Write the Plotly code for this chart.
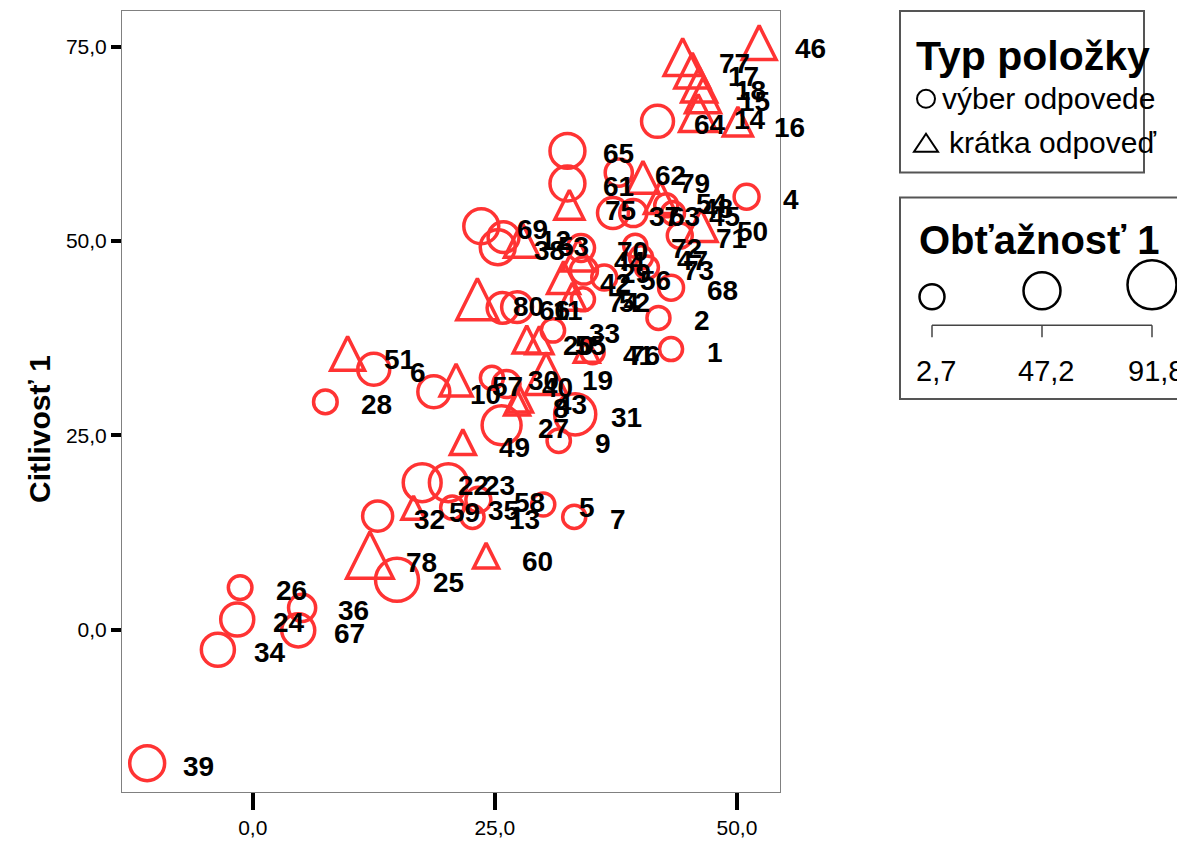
import plotly.graph_objects as go

# ---------------- data ----------------
item_labels = ["1", "2", "4", "5", "6", "7", "8", "9", "10", "11", "12", "13", "14", "15", "16", "17", "18", "19", "20",
               "22", "23", "24", "25", "26", "27", "28", "29", "30", "31", "32", "33", "34", "35", "36", "37", "38", "39",
               "40", "41", "42", "43", "44", "45", "46", "47", "48", "49", "50", "51", "52", "53", "54", "55", "56", "57",
               "58", "59", "60", "61", "62", "63", "64", "65", "66", "67", "68", "69", "70", "71", "72", "73", "74", "75",
               "76", "77", "78", "79", "80"]
x_values = [43.2, 41.9, 51.0, 30.0, 12.5, 33.2, 27.3, 31.6, 18.7, 27.3, 25.9, 22.7, 46.0, 46.5, 50.1, 45.4, 46.1, 30.3, 28.3,
            17.5, 20.2, -1.6, 14.9, -1.3, 25.7, 7.5, 34.2, 24.7, 33.3, 12.9, 31.0, -3.6, 20.6, 5.1, 37.2, 25.3, -10.9,
            26.2, 34.5, 32.1, 27.6, 33.6, 43.4, 52.3, 40.1, 42.7, 21.7, 46.3, 9.8, 34.1, 27.8, 42.1, 29.6, 36.3, 21.0,
            23.3, 16.6, 24.1, 32.5, 37.8, 39.3, 41.8, 32.5, 25.8, 4.7, 43.2, 23.6, 33.9, 44.1, 39.5, 40.7, 33.0, 32.7,
            35.1, 44.4, 12.1, 40.3, 23.2]
citlivost = [36.1, 40.1, 55.7, 16.1, 33.5, 14.5, 28.9, 24.3, 30.6, 41.5, 50.5, 14.5, 66.0, 68.3, 65.0, 71.5, 69.7, 32.4, 37.0,
             18.9, 18.9, 1.3, 6.4, 5.4, 26.3, 29.3, 46.2, 32.4, 27.7, 14.6, 38.5, -2.6, 15.7, 2.8, 53.6, 49.2, -17.2,
             31.6, 35.7, 44.9, 29.3, 47.8, 53.6, 75.1, 47.9, 54.6, 23.8, 51.6, 35.1, 42.5, 49.7, 55.2, 36.9, 45.3, 31.7,
             16.7, 15.4, 9.2, 57.4, 58.8, 53.6, 65.4, 61.6, 41.4, -0.1, 44.0, 51.9, 49.1, 50.7, 49.4, 46.6, 42.5, 54.3,
             35.7, 73.2, 9.0, 57.8, 42.0]
obtaznost = [2.7, 2.7, 10, 3, 36, 3, 10, 4, 36, 32, 32, 3, 55, 47, 25, 47, 47, 73, 18,
             58, 58, 40, 77, 5, 62, 5, 18, 3, 70, 29, 4, 40, 3, 18, 32, 47, 47,
             18, 10, 36, 10, 36, 3, 43, 3, 3, 10, 36, 43, 3, 47, 36, 18, 10, 36,
             10, 3, 10, 47, 18, 18, 36, 47, 32, 40, 10, 47, 18, 10, 3, 3, 18, 25,
             3, 55, 90, 36, 70]
typ = ["v", "v", "v", "v", "v", "v", "k", "v", "v", "v", "v", "v", "k", "k", "k", "k", "k", "k", "k",
       "v", "v", "v", "v", "v", "v", "v", "v", "v", "v", "v", "v", "v", "v", "v", "v", "v", "v",
       "v", "k", "k", "k", "k", "v", "k", "v", "v", "k", "k", "k", "v", "k", "k", "k", "v", "k",
       "v", "k", "k", "v", "v", "v", "v", "v", "v", "v", "v", "v", "v", "v", "v", "v", "k", "k",
       "v", "k", "k", "k", "k"]

type_names = {"v": "výber odpovede", "k": "krátka odpoveď"}
size_legend_values = [2.7, 47.2, 91.8]
size_legend_labels = ["2,7", "47,2", "91,8"]
x_ticks = [0, 25, 50]
y_ticks = [0, 25, 50, 75]

# ---------------- style / layout ----------------
RED = "#ff3333"
FONT = "Liberation Sans, Arial, sans-serif"
OFF = 8                      # page body margin of the html page
SW, SH = 1185, 841           # screen size
PL, PR, PT, PB = 122, 780, 10, 793   # plot area in screen pixels
W, H = SW - OFF, SH - OFF
ML, MT = PL - OFF, PT - OFF
MR, MB = W - (PR - OFF), H - (PB - OFF)
PW, PH = PR - PL, PB - PT
D_MIN, D_MAX = 2.7, 91.8
S_MIN, S_MAX = 23, 47


def msize(d):
    return S_MIN + (d - D_MIN) / (D_MAX - D_MIN) * (S_MAX - S_MIN)


def fx(px):
    return (px - PL) / PW


def fy(py):
    return (PB - py) / PH


fig = go.Figure()

# circles
idx_c = [i for i, t in enumerate(typ) if t == "v"]
fig.add_trace(go.Scatter(
    x=[x_values[i] for i in idx_c], y=[citlivost[i] for i in idx_c], mode="markers",
    name=type_names["v"],
    marker=dict(symbol="circle-open", color=RED, opacity=1, size=[msize(obtaznost[i]) for i in idx_c],
                line=dict(width=3.5, color=RED)),
    showlegend=False, hoverinfo="skip"))

# triangles (arrow symbol rotated -> near-equilateral triangle, shifted back onto its point)
idx_t = [i for i, t in enumerate(typ) if t == "k"]
tsz = [msize(obtaznost[i]) for i in idx_t]
fig.add_trace(go.Scatter(
    x=[x_values[i] for i in idx_t], y=[citlivost[i] for i in idx_t], mode="markers",
    name=type_names["k"],
    marker=dict(symbol="arrow-down-open", angle=180, standoff=[s * 0.6 for s in tsz], opacity=1,
                color=RED, size=tsz, line=dict(width=3.5, color=RED)),
    showlegend=False, hoverinfo="skip"))

annotations = []
for lab, xv, yv in zip(item_labels, x_values, citlivost):
    annotations.append(dict(x=xv, y=yv, xref="x", yref="y", text=lab, showarrow=False,
                            xanchor="left", yanchor="middle", xshift=34, yshift=-3,
                            font=dict(family=FONT, size=28, color="black", weight="bold")))

# y axis title
annotations.append(dict(x=fx(40), y=fy(429), xref="paper", yref="paper", text="Citlivosť 1",
                        textangle=-90, showarrow=False, xanchor="center", yanchor="middle",
                        font=dict(family=FONT, size=30, color="black", weight="bold")))

shapes = []
# legend 1 : item type
shapes.append(dict(type="rect", xref="paper", yref="paper", x0=fx(900), x1=fx(1144), y0=fy(172), y1=fy(10),
                   line=dict(color="#555555", width=2), fillcolor="rgba(0,0,0,0)"))
annotations.append(dict(x=fx(914), y=fy(55), xref="paper", yref="paper", text="Typ položky", showarrow=False,
                        xanchor="left", yanchor="middle",
                        font=dict(family=FONT, size=41, color="black", weight="bold")))
r1 = 9
shapes.append(dict(type="circle", xref="paper", yref="paper", x0=fx(926 - r1), x1=fx(926 + r1),
                   y0=fy(98 + r1), y1=fy(98 - r1), line=dict(color="black", width=2)))
annotations.append(dict(x=fx(940), y=fy(98), xref="paper", yref="paper", text=type_names["v"], showarrow=False,
                        xanchor="left", yanchor="middle", font=dict(family=FONT, size=30, color="black")))
tri = f"M {fx(926)},{fy(133)} L {fx(938)},{fy(151)} L {fx(914)},{fy(151)} Z"
shapes.append(dict(type="path", xref="paper", yref="paper", path=tri, line=dict(color="black", width=2)))
annotations.append(dict(x=fx(947), y=fy(142), xref="paper", yref="paper", text=type_names["k"], showarrow=False,
                        xanchor="left", yanchor="middle", font=dict(family=FONT, size=30, color="black")))

# legend 2 : difficulty (size)
shapes.append(dict(type="rect", xref="paper", yref="paper", x0=fx(900), x1=fx(1195), y0=fy(399), y1=fy(197),
                   line=dict(color="#555555", width=2), fillcolor="rgba(0,0,0,0)"))
annotations.append(dict(x=fx(917), y=fy(240), xref="paper", yref="paper", text="Obťažnosť 1", showarrow=False,
                        xanchor="left", yanchor="middle",
                        font=dict(family=FONT, size=40, color="black", weight="bold")))
centers = [932, 1042, 1152]
for cx, val, lab in zip(centers, size_legend_values, size_legend_labels):
    r = (msize(val) + 2) / 2
    cy = 309 - r
    shapes.append(dict(type="circle", xref="paper", yref="paper", x0=fx(cx - r), x1=fx(cx + r),
                       y0=fy(cy + r), y1=fy(cy - r), line=dict(color="black", width=2.5)))
    shapes.append(dict(type="line", xref="paper", yref="paper", x0=fx(cx), x1=fx(cx), y0=fy(325), y1=fy(337),
                       line=dict(color="#444444", width=1.5)))
    annotations.append(dict(x=fx(cx + 4), y=fy(371), xref="paper", yref="paper", text=lab, showarrow=False,
                            xanchor="center", yanchor="middle", font=dict(family=FONT, size=29, color="black")))
shapes.append(dict(type="line", xref="paper", yref="paper", x0=fx(centers[0]), x1=fx(centers[-1]),
                   y0=fy(325), y1=fy(325), line=dict(color="#444444", width=1.5)))

axis_common = dict(showgrid=False, zeroline=False, showline=True, mirror=True, linecolor="#808080", linewidth=1,
                   ticks="outside", tickcolor="black", tickwidth=4, tickformat=".1f")

fig.update_layout(
    width=W, height=H,
    margin=dict(l=ML, r=MR, t=MT, b=MB, pad=0),
    paper_bgcolor="white", plot_bgcolor="white",
    separators=", ",
    xaxis=dict(range=[-13.5, 54.45], tickvals=x_ticks, ticklen=17,
               tickfont=dict(family=FONT, size=21, color="black"), **axis_common),
    yaxis=dict(range=[-20.9, 79.6], tickvals=y_ticks, ticklen=10,
               tickfont=dict(family=FONT, size=21, color="black"), **axis_common),
    annotations=annotations,
    shapes=shapes,
    showlegend=False,
)

fig.write_html("out.html")
